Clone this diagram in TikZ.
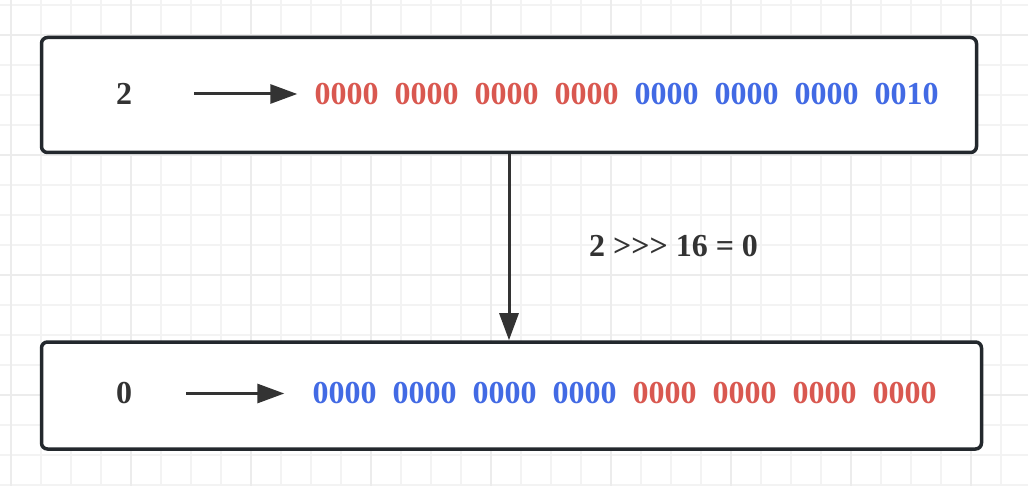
\documentclass[tikz,border=0pt]{standalone}
\usepackage{fontspec}
\setmainfont{Liberation Serif}
\usetikzlibrary{arrows.meta,positioning}
\definecolor{bitred}{RGB}{217,88,80}
\definecolor{bitblue}{RGB}{66,106,228}
\definecolor{boxline}{RGB}{35,40,45}
\definecolor{txtgray}{RGB}{51,51,51}
\definecolor{gridminor}{RGB}{243,243,243}
\definecolor{gridmajor}{RGB}{236,236,236}
\tikzset{
  gridline/.style={draw=gridminor, line width=1.2pt},
  gridbold/.style={draw=gridmajor, line width=1.5pt},
  panel/.style={rectangle, rounded corners=6pt, draw=boxline, line width=3.5pt, fill=white},
  num/.style={font=\fontsize{32}{36}\selectfont\bfseries, text=txtgray, inner sep=0pt},
  bits/.style={font=\fontsize{32}{36}\selectfont\bfseries, inner sep=0pt},
  arrow/.style={line width=3pt, draw=txtgray, -{Triangle[length=27pt,width=19pt]}},
}
\begin{document}
\begin{tikzpicture}[x=1pt, y=-1pt]
    \useasboundingbox[fill=white] (0,0) rectangle (1028,486);

    % grid
    \foreach \gx in {0,...,34}
        \draw[gridline] (11+30*\gx,0) -- (11+30*\gx,486);
    \foreach \gy in {0,...,16}
        \draw[gridline] (0,5+30*\gy) -- (1028,5+30*\gy);
    \foreach \gx in {0,...,8}
        \draw[gridbold] (11+120*\gx,0) -- (11+120*\gx,486);
    \foreach \gy in {0,...,4}
        \draw[gridbold] (0,35+120*\gy) -- (1028,35+120*\gy);

    % boxes
    \node[panel, minimum width=935pt, minimum height=115pt] (top) at (509, 95) {};
    \node[panel, minimum width=940pt, minimum height=107pt] (bot) at (511.5, 395.5) {};

    % upper row
    \node[num] (n2) at (124, 94) {2};
    \foreach \i/\v/\c in {0/0000/bitred, 1/0000/bitred, 2/0000/bitred, 3/0000/bitred,
                          4/0000/bitblue, 5/0000/bitblue, 6/0000/bitblue, 7/0010/bitblue}
        \node[bits, text=\c] (hi\i) at (346.5+80*\i, 94) {\v};
    \draw[arrow] ([xshift=62pt]n2.east) -- ([xshift=-17pt]hi0.west);

    % lower row
    \node[num] (n0) at (124, 393.5) {0};
    \foreach \i/\c in {0/bitblue, 1/bitblue, 2/bitblue, 3/bitblue,
                       4/bitred, 5/bitred, 6/bitred, 7/bitred}
        \node[bits, text=\c] (lo\i) at (344.5+80*\i, 393.5) {0000};
    \draw[arrow] ([xshift=54pt]n0.east) -- ([xshift=-28pt]lo0.west);

    % shift
    \draw[arrow] (top.south) -- (top.south |- bot.north);
    \node[num] (shift) at (673.5, 246) {2 >\kern0pt>\kern0pt> 16 = 0};
\end{tikzpicture}
\end{document}
